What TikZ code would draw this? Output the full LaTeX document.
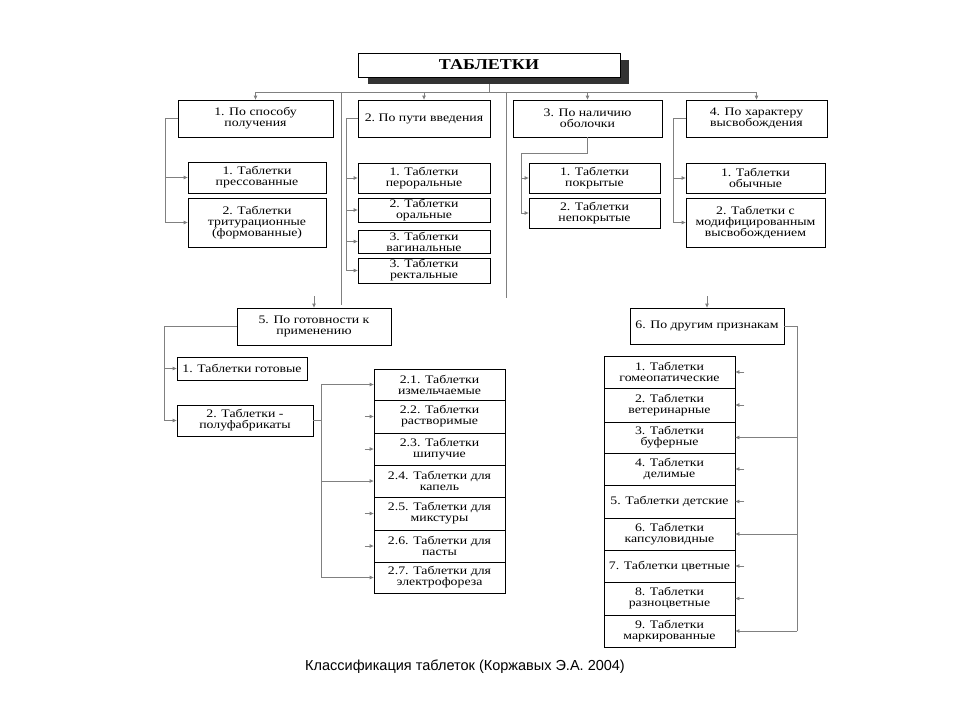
\documentclass[tikz,border=0pt]{standalone}
\usepackage{fontspec}
\setmainfont{Liberation Serif}
\newfontfamily\boxfont[FakeStretch=1.2]{Liberation Serif}
\newfontfamily\titlefont[FakeStretch=1.2]{Liberation Serif}
\newfontfamily\capfont{Liberation Sans}
\usetikzlibrary{arrows.meta}

\begin{document}
\begin{tikzpicture}[x=1pt,y=-1pt,line width=.6pt,
  box/.style={draw=black,line width=.8pt,fill=white,inner sep=0pt,align=center,font=\boxfont\fontsize{11.5}{11}\selectfont},
  conn/.style={draw=gray,line width=.8pt},
  arr/.style={conn,-{Triangle[length=4pt,width=3.5pt]}}]
\path[use as bounding box] (0,0) rectangle (960,720);
% title with shadow
\fill[gray!40!black] (368,60) rectangle (629,84);
\node[draw=black,line width=.6pt,fill=white,inner sep=0pt,minimum width=262,minimum height=24,font=\titlefont\bfseries\fontsize{15}{17}\selectfont] (title) at (489,65) {ТАБЛЕТКИ};
% first level
\node[box,minimum width=155,minimum height=37] (p1) at (255.5,118.5) {1. По способу\\получения};
\node[box,minimum width=132,minimum height=37] (p2) at (424,118.5) {2.\ По пути введения};
\node[box,minimum width=149,minimum height=37] (p3) at (587.5,118.5) {3. По наличию\\оболочки};
\node[box,minimum width=141,minimum height=37] (p4) at (756.5,118.5) {4. По характеру\\высвобождения};
% by production
\node[box,minimum width=138,minimum height=31] (a1) at (257,177.5) {1. Таблетки\\прессованные};
\node[box,minimum width=138,minimum height=49] (a2) at (257,222.5) {2. Таблетки\\тритурационные\\(формованные)};
% by route
\node[box,minimum width=132,minimum height=30] (b1) at (424,178) {1. Таблетки\\пероральные};
\node[box,minimum width=132,minimum height=24] (b2) at (424,210) {2. Таблетки\\оральные};
\node[box,minimum width=132,minimum height=23] (b3) at (424,241.5) {3. Таблетки\\вагинальные};
\node[box,minimum width=132,minimum height=25] (b4) at (424,270.5) {3. Таблетки\\ректальные};
% by coating
\node[box,minimum width=131,minimum height=30] (c1) at (594.5,178) {1. Таблетки\\покрытые};
\node[box,minimum width=131,minimum height=30] (c2) at (594.5,213) {2. Таблетки\\непокрытые};
% by release
\node[box,minimum width=139,minimum height=30] (d1) at (755.5,178) {1. Таблетки\\обычные};
\node[box,minimum width=139,minimum height=49] (d2) at (755.5,222.5) {2. Таблетки с\\модифицированным\\высвобождением};
% second level
\node[box,minimum width=154,minimum height=37] (q5) at (314,326.5) {5. По готовности к\\применению};
\node[box,minimum width=154,minimum height=36] (q6) at (707,326) {6. По другим признакам};
% by readiness
\node[box,minimum width=130,minimum height=23] (e1) at (242,368.5) {1. Таблетки готовые};
\node[box,minimum width=136,minimum height=31] (e2) at (245,420.5) {2. Таблетки -\\полуфабрикаты};
\node[box,minimum width=131,minimum height=31] (f1) at (439.5,384.5) {2.1. Таблетки\\измельчаемые};
\node[box,minimum width=131,minimum height=33] (f2) at (439.5,416.5) {2.2. Таблетки\\растворимые};
\node[box,minimum width=131,minimum height=32] (f3) at (439.5,449) {2.3. Таблетки\\шипучие};
\node[box,minimum width=131,minimum height=32] (f4) at (439.5,481) {2.4. Таблетки для\\капель};
\node[box,minimum width=131,minimum height=33] (f5) at (439.5,513.5) {2.5. Таблетки для\\микстуры};
\node[box,minimum width=131,minimum height=32] (f6) at (439.5,546) {2.6. Таблетки для\\пасты};
\node[box,minimum width=131,minimum height=31] (f7) at (439.5,577.5) {2.7. Таблетки для\\электрофореза};
% other features
\node[box,minimum width=131,minimum height=32] (g1) at (669.5,372) {1. Таблетки\\гомеопатические};
\node[box,minimum width=131,minimum height=34] (g2) at (669.5,405) {2. Таблетки\\ветеринарные};
\node[box,minimum width=131,minimum height=31] (g3) at (669.5,437.5) {3. Таблетки\\буферные};
\node[box,minimum width=131,minimum height=32] (g4) at (669.5,469) {4. Таблетки\\делимые};
\node[box,minimum width=131,minimum height=33] (g5) at (669.5,501.5) {5. Таблетки детские};
\node[box,minimum width=131,minimum height=32] (g6) at (669.5,534) {6. Таблетки\\капсуловидные};
\node[box,minimum width=131,minimum height=32] (g7) at (669.5,566) {7. Таблетки цветные};
\node[box,minimum width=131,minimum height=33] (g8) at (669.5,598.5) {8. Таблетки\\разноцветные};
\node[box,minimum width=131,minimum height=32] (g9) at (669.5,631) {9. Таблетки\\маркированные};
% connectors
\coordinate (bus) at (489,92);
\draw[conn] (title.south) ++(0,7) -- (bus);
\draw[conn] (p1.north |- bus) -- (p4.north |- bus);
\draw[arr] (p1.north |- bus) -- (p1.north);
\draw[arr] (p2.north |- bus) -- (p2.north);
\draw[arr] (p3.north |- bus) -- (p3.north);
\draw[arr] (p4.north |- bus) -- (p4.north);
\coordinate (l5) at (341,305);
\coordinate (l6) at (506,298);
\draw[conn] (l5 |- bus) -- (l5);
\draw[conn] (l6 |- bus) -- (l6);
\coordinate (q5in) at (314,296);
\coordinate (q6in) at (707,296);
\draw[arr] (q5in) -- (q5.north);
\draw[arr] (q6in) -- (q6.north);
\draw[arr] (p1.west) -- ++(-12,0) |- (a2.west);
\draw[arr] (p1.west) ++(-12,0) |- (a1.west);
\draw[arr] (p2.west) -- ++(-11,0) |- (b4.west);
\draw[arr] (p2.west) ++(-11,0) |- (b1.west);
\draw[arr] (p2.west) ++(-11,0) |- (b2.west);
\draw[arr] (p2.west) ++(-11,0) |- (b3.west);
\coordinate (cbend) at (521,153);
\draw[arr] (p3.south) |- (cbend) |- (c2.west);
\draw[arr] (cbend) |- (c1.west);
\draw[arr] (p4.west) -- ++(-12,0) |- (d2.west);
\draw[arr] (p4.west) ++(-12,0) |- (d1.west);
\draw[arr] (q5.west) -- ++(-72,0) |- (e2.west);
\draw[arr] (q5.west) ++(-72,0) |- (e1.west);
\draw[conn] (e2.east) -- ++(8,0) coordinate (fv);
\draw[conn] (fv |- f1.west) -- (fv |- f7.west);
\draw[arr] (fv |- f1.west) -- (f1.west);
\draw[arr] (fv |- f4.west) -- (f4.west);
\draw[arr] (fv |- f7.west) -- (f7.west);
\draw[arr] ([xshift=-9pt]f2.west) -- (f2.west);
\draw[arr] ([xshift=-9pt]f3.west) -- (f3.west);
\draw[arr] ([xshift=-9pt]f5.west) -- (f5.west);
\draw[arr] ([xshift=-9pt]f6.west) -- (f6.west);
\draw[conn] (q6.east) -- ++(13,0) coordinate (gv) -- (gv |- g9.east);
\draw[arr] (gv |- g3.east) -- (g3.east);
\draw[arr] (gv |- g6.east) -- (g6.east);
\draw[arr] (gv |- g9.east) -- (g9.east);
\draw[arr] ([xshift=9pt]g1.east) -- (g1.east);
\draw[arr] ([xshift=9pt]g2.east) -- (g2.east);
\draw[arr] ([xshift=9pt]g4.east) -- (g4.east);
\draw[arr] ([xshift=9pt]g5.east) -- (g5.east);
\draw[arr] ([xshift=9pt]g7.east) -- (g7.east);
\draw[arr] ([xshift=9pt]g8.east) -- (g8.east);
% caption
\node[font=\capfont\fontsize{14.5}{17}\selectfont] (cap) at (465,667) {Классификация таблеток (Коржавых Э.А. 2004)};
\end{tikzpicture}
\end{document}
